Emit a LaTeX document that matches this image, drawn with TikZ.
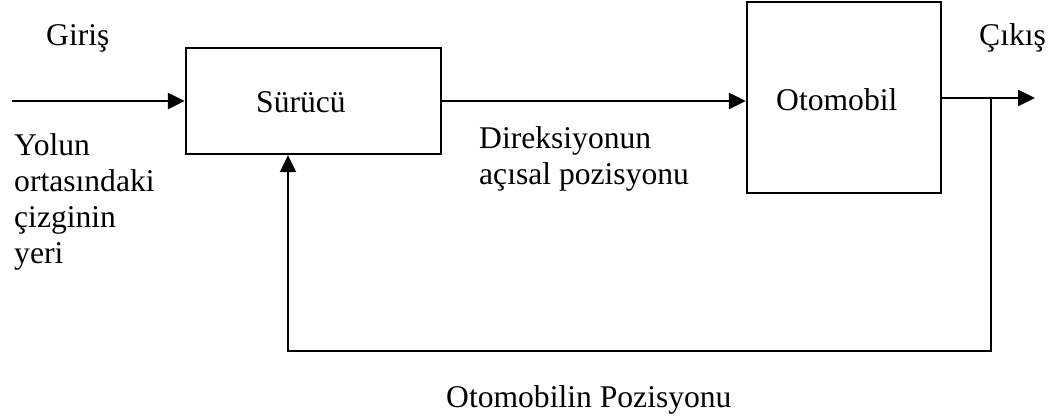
\documentclass[tikz,border=0pt]{standalone}
\usepackage{fontspec}
\setmainfont{Liberation Serif}
\usetikzlibrary{arrows.meta}
\begin{document}
\begin{tikzpicture}[x=0.5pt,y=-0.5pt,
  line width=1.2pt,
  blk/.style={draw, line width=1.2pt, inner sep=0pt},
  lbl/.style={anchor=base west, inner sep=0pt, font=\fontsize{15.8}{18}\selectfont},
  arr/.style={-{Triangle[length=8.5pt,width=8pt]}}]
\useasboundingbox (0,0) rectangle (1052,418);
\node[blk, minimum width=127.5pt, minimum height=53pt] (s) at (313.5,101) {};
\node[blk, minimum width=97pt, minimum height=95.5pt] (o) at (844,97.5) {};
\node[lbl] (ts) at (255,112) {Sürücü};
\node[lbl] (to) at (775,110) {Otomobil};
\node[lbl] (giris) at (45,45) {Giriş};
\node[lbl] (cikis) at (978,45) {Çıkış};
\node[lbl, align=left, anchor=north west] (yol) at (13,132) {Yolun\\ortasındaki\\çizginin\\yeri};
\node[lbl, align=left, anchor=north west] (dir) at (478,125) {Direksiyonun\\açısal pozisyonu};
\node[lbl] (pos) at (445,407) {Otomobilin Pozisyonu};
\coordinate (in) at (12,101);
\coordinate (out) at (1035,98);
\coordinate (fb) at (991,98);
\coordinate (fc) at (288,351);
\draw[arr] (in) -- (s.west);
\draw[arr] (s.east) -- (s.east -| o.west);
\draw[arr] (o.east |- out) -- (out);
\draw[arr] (fb) |- (fc) -- (fc |- s.south);
\end{tikzpicture}
\end{document}
